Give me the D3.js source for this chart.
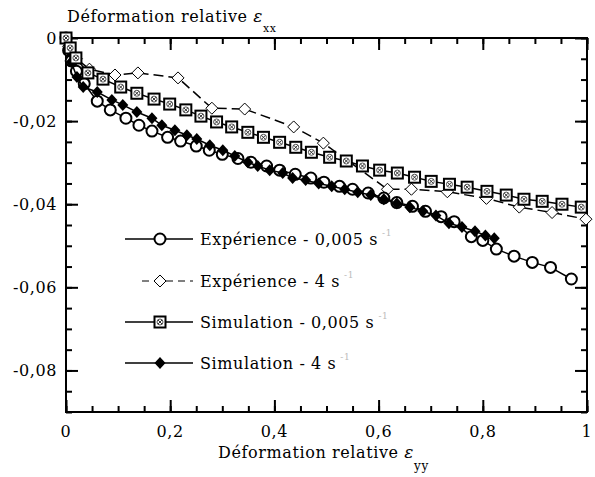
<!DOCTYPE html>
<html>
<head>
<meta charset="UTF-8">
<title>Déformation relative</title>
<style>
html, body {
    margin: 0;
    padding: 0;
    background-color: #fff;
}
text {
    font-family: "DejaVu Serif", serif;
    fill: #000;
    letter-spacing: 0.6px;
}
.axis path { display: none; }
.axis line { stroke: #000; stroke-width: 2; }
.serie { fill: none; stroke: #000; stroke-width: 1.5; }
</style>
</head>
<body>
<div class="chart"></div>
<script src="https://cdn.jsdelivr.net/npm/d3@7/dist/d3.min.js"></script>
<script>
// valeurs : [eps_yy, eps_xx]
let expLent = [
    [0, 0], [0.005, -0.003], [0.01, -0.0055], [0.02, -0.008], [0.035, -0.011],
    [0.06, -0.0152], [0.085, -0.0173], [0.115, -0.0193], [0.14, -0.021], [0.165, -0.0224],
    [0.195, -0.0239], [0.22, -0.0248], [0.25, -0.026], [0.275, -0.027], [0.30, -0.028],
    [0.33, -0.029], [0.355, -0.0299], [0.385, -0.0308], [0.41, -0.0318], [0.44, -0.0328],
    [0.47, -0.0337], [0.495, -0.0347], [0.525, -0.0357], [0.55, -0.0364], [0.58, -0.0373],
    [0.61, -0.0385], [0.635, -0.0396], [0.665, -0.0405], [0.69, -0.0417], [0.72, -0.043],
    [0.745, -0.0442], [0.778, -0.0478], [0.80, -0.0487], [0.826, -0.0508], [0.86, -0.0525],
    [0.895, -0.054], [0.93, -0.0552], [0.97, -0.058]
];
let expRapide = [
    [0, 0], [0.005, -0.002], [0.02, -0.005], [0.045, -0.0075], [0.094, -0.0089],
    [0.138, -0.0084], [0.215, -0.0096], [0.28, -0.0169], [0.343, -0.0171], [0.437, -0.0214],
    [0.494, -0.0253], [0.617, -0.0364], [0.663, -0.0364], [0.732, -0.037], [0.807, -0.0386],
    [0.87, -0.0407], [0.933, -0.042], [0.998, -0.0436]
];
let simLent = [
    [0, 0], [0.008, -0.0024], [0.019, -0.0048], [0.042, -0.0084], [0.071, -0.0099],
    [0.105, -0.0118], [0.136, -0.0133], [0.169, -0.0147], [0.199, -0.0159], [0.23, -0.0173],
    [0.259, -0.0188], [0.289, -0.0202], [0.318, -0.0214], [0.349, -0.0227], [0.379, -0.0239],
    [0.41, -0.0251], [0.441, -0.0263], [0.471, -0.0275], [0.506, -0.0287], [0.538, -0.0296],
    [0.569, -0.0308], [0.602, -0.0318], [0.636, -0.0325], [0.669, -0.0335], [0.701, -0.0345],
    [0.736, -0.0352], [0.770, -0.0359], [0.808, -0.0369], [0.845, -0.0378], [0.879, -0.0388],
    [0.914, -0.0393], [0.952, -0.04], [0.989, -0.0407]
];
let simRapide = [
    [0, 0], [0.005, -0.003], [0.01, -0.0058], [0.021, -0.0094], [0.033, -0.0118],
    [0.06, -0.013], [0.088, -0.0149], [0.109, -0.0161], [0.136, -0.0178], [0.165, -0.0193],
    [0.184, -0.021], [0.209, -0.0222], [0.232, -0.0234], [0.251, -0.0243], [0.276, -0.0258],
    [0.301, -0.027], [0.324, -0.0284], [0.349, -0.0299], [0.368, -0.0308], [0.391, -0.0318],
    [0.416, -0.0325], [0.435, -0.0337], [0.46, -0.0342], [0.485, -0.035], [0.51, -0.0357],
    [0.535, -0.0364], [0.56, -0.0371], [0.585, -0.0378], [0.61, -0.0388], [0.635, -0.0398],
    [0.66, -0.0407], [0.685, -0.0417], [0.71, -0.0427], [0.735, -0.0446], [0.76, -0.0455],
    [0.785, -0.0465], [0.805, -0.0475], [0.822, -0.0482]
];
let legendLabels = ['Expérience - 0,005 s', 'Expérience - 4 s', 'Simulation - 0,005 s', 'Simulation - 4 s'];
let xMajor = [0, 0.2, 0.4, 0.6, 0.8, 1];
let xMinor = d3.range(0, 1.0001, 0.05);
let yMajor = [0, -0.02, -0.04, -0.06, -0.08];
let yMinor = d3.range(0, -0.0901, -0.005);

let width = 595, height = 477;
let mLeft = 66, mRight = 587, mTop = 38, mBottom = 412;

let fr = d3.formatLocale({decimal: ',', thousands: ' ', grouping: [3], currency: ['', '']});
let fmt = (d) => d === 0 ? '0' : (d === 1 ? '1' : fr.format('.2~f')(d).replace('−', '-'));

let svg = d3.select('.chart').append('svg')
    .attr('width', width)
    .attr('height', height);

let xScale = d3.scaleLinear().domain([0, 1]).range([mLeft, mRight]);
let yScale = d3.scaleLinear().domain([-0.09, 0]).range([mBottom, mTop]);

// graduations vers l'intérieur
function ticks(axis, tr, size, vals) {
    svg.append('g').attr('class', 'axis').attr('transform', tr)
        .call(axis.tickValues(vals).tickSize(size).tickFormat(''));
}
ticks(d3.axisBottom(xScale), `translate(0,${mBottom})`, -6, xMinor);
ticks(d3.axisBottom(xScale), `translate(0,${mBottom})`, -12, xMajor);
ticks(d3.axisTop(xScale), `translate(0,${mTop})`, -6, xMinor);
ticks(d3.axisTop(xScale), `translate(0,${mTop})`, -12, xMajor);
ticks(d3.axisLeft(yScale), `translate(${mLeft},0)`, -6, yMinor);
ticks(d3.axisLeft(yScale), `translate(${mLeft},0)`, -12, yMajor);
ticks(d3.axisRight(yScale), `translate(${mRight},0)`, -6, yMinor);
ticks(d3.axisRight(yScale), `translate(${mRight},0)`, -12, yMajor);

svg.append('rect')
    .attr('x', mLeft).attr('y', mTop)
    .attr('width', mRight - mLeft).attr('height', mBottom - mTop)
    .attr('fill', 'none').attr('stroke', '#000').attr('stroke-width', 2);

svg.selectAll('.xlab').data(xMajor).enter().append('text')
    .attr('x', (d) => xScale(d)).attr('y', 437)
    .attr('text-anchor', 'middle').attr('font-size', 16)
    .text(fmt);

svg.selectAll('.ylab').data(yMajor).enter().append('text')
    .attr('x', 57).attr('y', (d) => yScale(d) + 6)
    .attr('text-anchor', 'end').attr('font-size', 16)
    .text(fmt);

// titres
let t1 = svg.append('text').attr('x', 67).attr('y', 22).attr('font-size', 16);
t1.append('tspan').text('Déformation relative ');
t1.append('tspan').attr('font-style', 'italic').attr('font-size', 17).text('ε');
t1.append('tspan').attr('dy', 10).attr('font-size', 11).text('xx');

let t2 = svg.append('text').attr('x', 218).attr('y', 458).attr('font-size', 16);
t2.append('tspan').text('Déformation relative ');
t2.append('tspan').attr('font-style', 'italic').attr('font-size', 17).text('ε');
t2.append('tspan').attr('dy', 12).attr('font-size', 12).text('yy');

let line = d3.line()
    .x((d) => xScale(d[0]))
    .y((d) => yScale(d[1]));

// marqueurs
function circle(g) {
    g.append('circle').attr('r', 5.5)
        .attr('fill', '#fff').attr('stroke', '#000').attr('stroke-width', 2);
}
function openDiamond(g) {
    g.append('path').attr('d', 'M0,-6L6,0L0,6L-6,0Z')
        .attr('fill', '#fff').attr('stroke', '#000').attr('stroke-width', 1);
}
function filledDiamond(g) {
    g.append('path').attr('d', 'M0,-6L5.5,0L0,6L-5.5,0Z').attr('fill', '#000');
}
function crossSquare(g) {
    g.append('rect').attr('x', -5.5).attr('y', -5.5).attr('width', 11).attr('height', 11)
        .attr('fill', '#fff').attr('stroke', '#000').attr('stroke-width', 2);
    g.append('circle').attr('r', 3).attr('fill', 'none').attr('stroke', '#555').attr('stroke-width', 1);
    g.append('path').attr('d', 'M-2,-2L2,2M2,-2L-2,2').attr('stroke', '#333').attr('stroke-width', 1);
}

let series = [
    {data: expRapide, mark: openDiamond, width: 1, dash: '10,5'},
    {data: expLent, mark: circle, width: 1.5, dash: null},
    {data: simRapide, mark: filledDiamond, width: 1.5, dash: null},
    {data: simLent, mark: crossSquare, width: 1.5, dash: null}
];

series.forEach((s) => {
    svg.append('path')
        .attr('class', 'serie')
        .attr('stroke-width', s.width)
        .attr('stroke-dasharray', s.dash)
        .attr('d', line(s.data));
    svg.append('g').selectAll('g').data(s.data).enter().append('g')
        .attr('transform', (d) => `translate(${xScale(d[0])},${yScale(d[1])})`)
        .each(function () { s.mark(d3.select(this)); });
});

// légende
let legend = [
    {mark: circle, y: 239, x1: 125, width: 1.5},
    {mark: openDiamond, y: 281, x1: 142, width: 1, dash: '7,5'},
    {mark: crossSquare, y: 322, x1: 125, width: 1.5},
    {mark: filledDiamond, y: 363, x1: 125, width: 1.5}
];
legend.forEach((l, i) => {
    svg.append('line')
        .attr('x1', l.x1).attr('x2', 193).attr('y1', l.y).attr('y2', l.y)
        .attr('stroke', '#000').attr('stroke-width', l.width)
        .attr('stroke-dasharray', l.dash || null);
    let g = svg.append('g').attr('transform', `translate(160,${l.y})`);
    l.mark(g);
    let t = svg.append('text').attr('x', 200).attr('y', l.y + 6).attr('font-size', 16);
    t.append('tspan').text(legendLabels[i]);
    t.append('tspan').attr('dx', 4).attr('dy', -9).attr('font-size', 9).style('fill', '#bbb').text('-1');
});
</script>
</body>
</html>
